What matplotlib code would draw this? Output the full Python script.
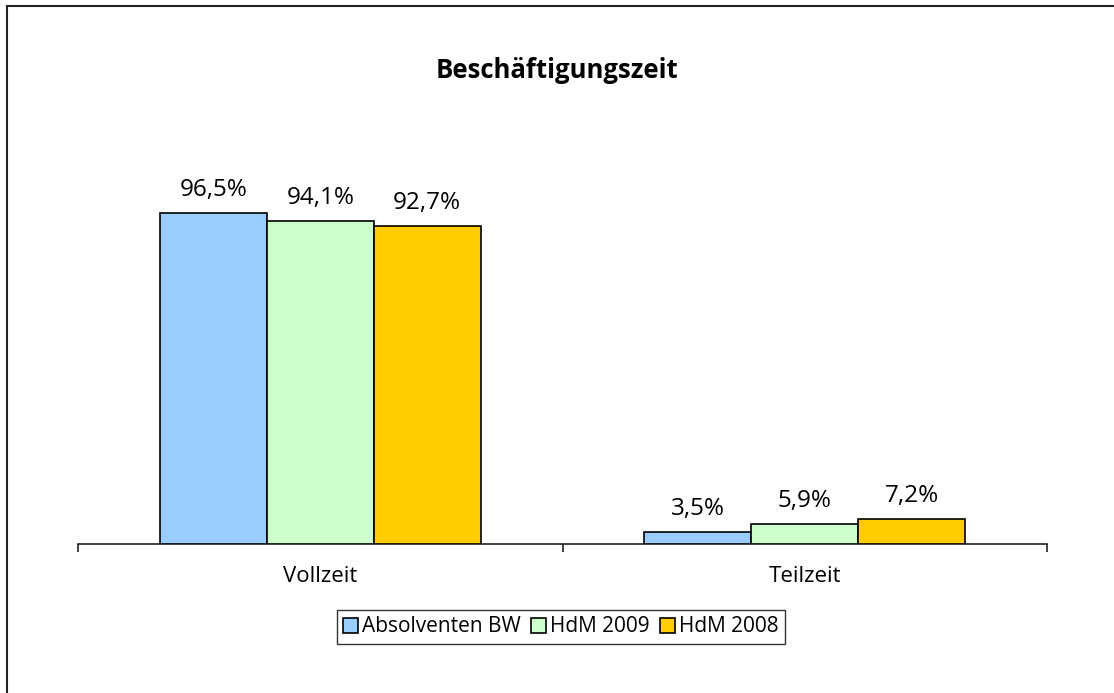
import matplotlib
matplotlib.use("Agg")
import matplotlib.pyplot as plt
import numpy as np
from matplotlib.patches import Rectangle

categories = ["Vollzeit", "Teilzeit"]
series_names = ["Absolventen BW", "HdM 2009", "HdM 2008"]
absolventen_bw = [96.5, 3.5]
hdm_2009 = [94.1, 5.9]
hdm_2008 = [92.7, 7.2]
colors = ["#99CCFF", "#CCFFCC", "#FFCC00"]
title = "Beschäftigungszeit"

plt.rcParams['font.family'] = ['Open Sans', 'DejaVu Sans']

W, H = 1114, 693
fig = plt.figure(figsize=(W / 100, H / 100), dpi=100)

# outer frame (only top/left visible in the reference)
fig.add_artist(Rectangle((7 / W, -0.05), 1.2, (H - 6) / H + 0.05, transform=fig.transFigure,
                         fill=False, edgecolor="#222222", linewidth=1.5))

ax_l, ax_r = 78 / W, 1047 / W
ax_b = (H - 544) / H
ax_t = (H - 201) / H
ax = fig.add_axes([ax_l, ax_b, ax_r - ax_l, ax_t - ax_b])

x = np.arange(len(categories))
bw = 0.2206
data = [absolventen_bw, hdm_2009, hdm_2008]
for i, (vals, c, name) in enumerate(zip(data, colors, series_names)):
    pos = x + (i - 1) * bw
    ax.bar(pos, vals, width=bw, color=c, edgecolor="black", linewidth=1.2, label=name, zorder=3)
    for p, v in zip(pos, vals):
        ax.annotate(f"{v:.1f}%".replace(".", ","), (p, v), xytext=(0, 8), textcoords="offset points",
                    ha="center", va="bottom", fontsize=17.5, color="black")

ax.set_xlim(-0.5, 1.5)
ax.set_ylim(0, 100)
for s in ["top", "right", "left"]:
    ax.spines[s].set_visible(False)
ax.spines["bottom"].set_linewidth(1.2)
ax.spines["bottom"].set_color("#222222")
ax.set_yticks([])
ax.set_xticks([-0.5, 0.5, 1.5])
ax.set_xticklabels([])
ax.tick_params(axis="x", length=6, width=1.2, color="#222222")
for xi, cat in zip(x, categories):
    ax.text(xi, (H - 577) / H, cat, transform=matplotlib.transforms.blended_transform_factory(ax.transData, fig.transFigure),
            ha="center", va="center", fontsize=16)

fig.text(0.5, (H - 70) / H, title, ha="center", va="center", fontsize=18.5, fontweight="bold")

leg = fig.legend(loc="center", bbox_to_anchor=(561 / W, (H - 627) / H), ncol=3, frameon=True,
                 fancybox=False, edgecolor="black", fontsize=15, handlelength=0.7, handleheight=0.7,
                 handletextpad=0.2, columnspacing=0.5, borderpad=0.3, borderaxespad=0)
leg.get_frame().set_linewidth(1.0)

fig.savefig("out.png", dpi=100)
